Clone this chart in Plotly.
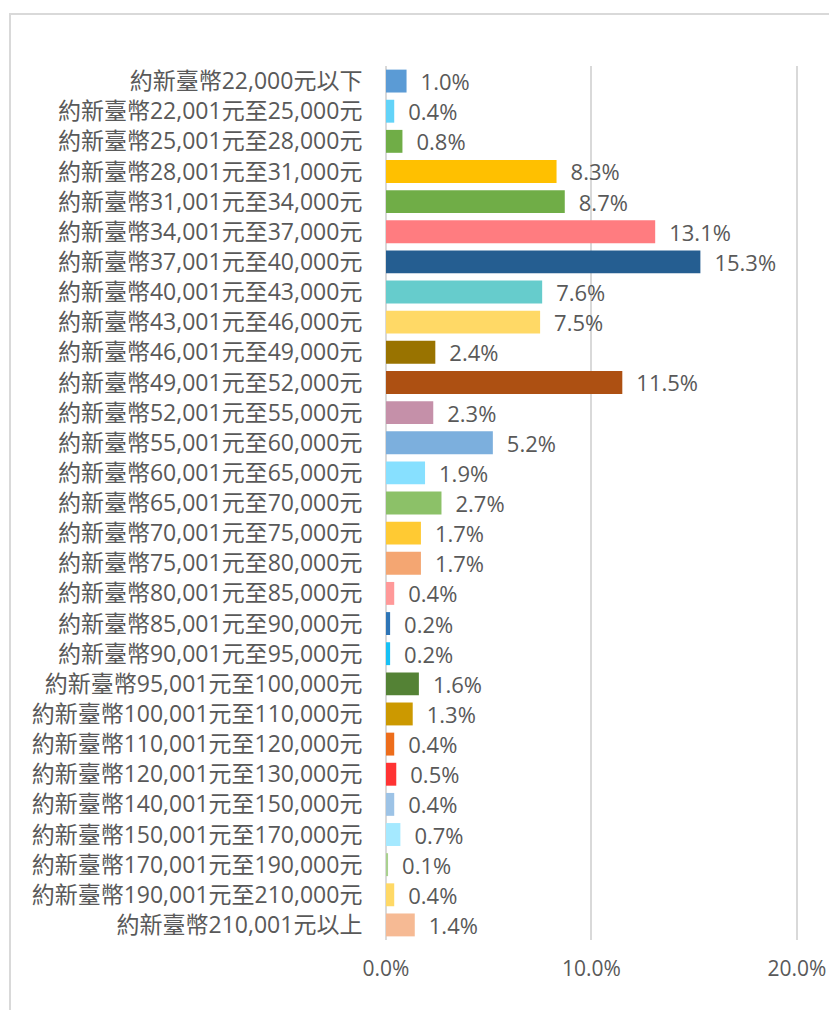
import plotly.graph_objects as go

categories = [
    "約新臺幣22,000元以下",
    "約新臺幣22,001元至25,000元",
    "約新臺幣25,001元至28,000元",
    "約新臺幣28,001元至31,000元",
    "約新臺幣31,001元至34,000元",
    "約新臺幣34,001元至37,000元",
    "約新臺幣37,001元至40,000元",
    "約新臺幣40,001元至43,000元",
    "約新臺幣43,001元至46,000元",
    "約新臺幣46,001元至49,000元",
    "約新臺幣49,001元至52,000元",
    "約新臺幣52,001元至55,000元",
    "約新臺幣55,001元至60,000元",
    "約新臺幣60,001元至65,000元",
    "約新臺幣65,001元至70,000元",
    "約新臺幣70,001元至75,000元",
    "約新臺幣75,001元至80,000元",
    "約新臺幣80,001元至85,000元",
    "約新臺幣85,001元至90,000元",
    "約新臺幣90,001元至95,000元",
    "約新臺幣95,001元至100,000元",
    "約新臺幣100,001元至110,000元",
    "約新臺幣110,001元至120,000元",
    "約新臺幣120,001元至130,000元",
    "約新臺幣140,001元至150,000元",
    "約新臺幣150,001元至170,000元",
    "約新臺幣170,001元至190,000元",
    "約新臺幣190,001元至210,000元",
    "約新臺幣210,001元以上",
]

values = [1.0, 0.4, 0.8, 8.3, 8.7, 13.1, 15.3, 7.6, 7.5, 2.4, 11.5, 2.3, 5.2, 1.9,
          2.7, 1.7, 1.7, 0.4, 0.2, 0.2, 1.6, 1.3, 0.4, 0.5, 0.4, 0.7, 0.1, 0.4, 1.4]

colors = ["#5B9BD5", "#63D3F8", "#70AD47", "#FFC000", "#70AD47", "#FF7C80", "#255E91",
          "#66CCCC", "#FFD966", "#997300", "#AD5012", "#C590A9", "#7CAFDD", "#87E0FF",
          "#8CC168", "#FFCA33", "#F4A672", "#FF9999", "#2E75B6", "#17C1F5", "#548235",
          "#CC9900", "#ED6D1B", "#FF3333", "#9DC3E6", "#A5E9FF", "#A9D18E", "#FFD966",
          "#F6BA94"]

x_ticks = [0, 10, 20]
x_tick_labels = ["0.0%", "10.0%", "20.0%"]

labels = ["\u2002" + f"{v:.1f}%" for v in values]

FONT = "Open Sans, Noto Sans CJK TC, sans-serif"
GREY = "#595959"

fig = go.Figure(go.Bar(
    x=values,
    y=categories,
    orientation="h",
    marker=dict(color=colors, line=dict(width=0)),
    text=labels,
    textposition="outside",
    constraintext="none",
    textfont=dict(family=FONT, size=22, color=GREY),
    cliponaxis=False,
    hoverinfo="skip",
))

# page body margin is removed by the post script, so figure fills the window
W, H = 829, 1010
L = 386
T = 66
R = W - 798
B = H - 940
pw = W - L - R
ph = H - T - B

def px_to_paper_x(px):
    return (px - L) / pw

def py_to_paper_y(py):
    return (H - B - py) / ph

fig.add_shape(type="rect", xref="paper", yref="paper",
              x0=px_to_paper_x(10), x1=px_to_paper_x(1000),
              y0=py_to_paper_y(1200), y1=py_to_paper_y(14),
              line=dict(color="#D9D9D9", width=2), fillcolor="rgba(0,0,0,0)",
              layer="below")

fig.update_layout(
    width=W, height=H,
    margin=dict(l=L, r=R, t=T, b=B, autoexpand=False),
    paper_bgcolor="white",
    plot_bgcolor="white",
    bargap=0.24,
    showlegend=False,
    font=dict(family=FONT, color=GREY, size=21),
    xaxis=dict(
        range=[0, 20.05],
        tickvals=x_ticks,
        ticktext=x_tick_labels,
        showgrid=True,
        gridcolor="#D9D9D9",
        gridwidth=1.5,
        zeroline=True,
        zerolinecolor="#D9D9D9",
        zerolinewidth=1.5,
        showline=False,
        ticks="outside",
        ticklen=10,
        tickcolor="rgba(0,0,0,0)",
        tickfont=dict(family=FONT, size=21, color=GREY),
        ticklabeloverflow="allow",
        automargin=False,
        fixedrange=True,
    ),
    yaxis=dict(
        autorange="reversed",
        showgrid=False,
        showline=False,
        ticks="outside",
        ticklen=18,
        tickcolor="rgba(0,0,0,0)",
        tickfont=dict(family=FONT, size=23, color=GREY),
        automargin=False,
        fixedrange=True,
    ),
)

fig.write_html(
    "out.html",
    config={"displayModeBar": False},
    post_script="document.body.style.margin='0';document.body.style.overflow='hidden';",
)
